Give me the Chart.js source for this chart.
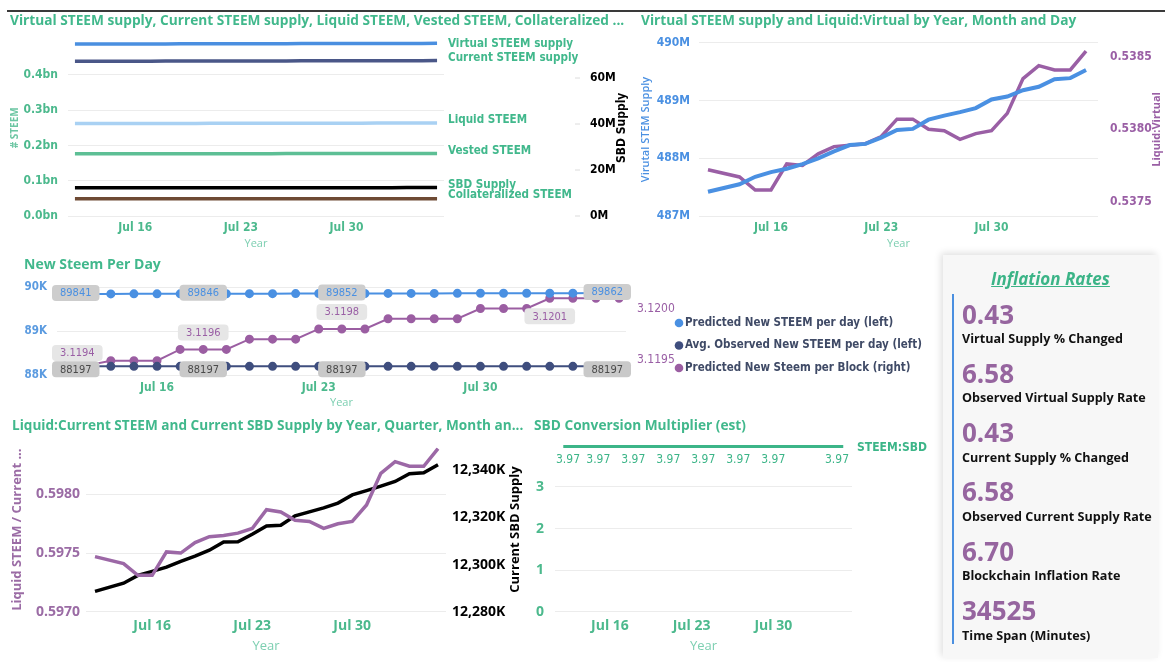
<!DOCTYPE html>
<html><head><meta charset="utf-8">
<script src="https://cdn.jsdelivr.net/npm/chart.js@4.4.1/dist/chart.umd.min.js"></script>
<style>
html,body{margin:0;padding:0;background:#fff;width:1168px;height:662px;overflow:hidden}
.box{position:absolute}
#topline{position:absolute;left:7px;top:10px;width:1158px;height:2px;background:#3a3a3a}
#card{position:absolute;left:943px;top:255px;width:215px;height:403px;background:#f7f7f7;box-shadow:-2px -2px 7px rgba(0,0,0,0.13);font-family:"Open Sans","Noto Sans",sans-serif}
#card .ttl{position:absolute;left:0;width:215px;top:12px;text-align:center;font-size:17px;font-weight:bold;font-style:italic;text-decoration:underline;color:#3bb487;line-height:24px}
#card .vline{position:absolute;left:9px;top:39px;width:1.5px;height:350px;background:#4a8fe0}
#card .val{position:absolute;left:19px;font-size:26px;font-weight:bold;color:#96659f;line-height:34px}
#card .lab{position:absolute;left:19px;font-size:12.6px;font-weight:bold;color:#111;line-height:18px;white-space:nowrap}
</style></head>
<body>
<div id="topline"></div>
<div class="box" style="left:0;top:12px;width:632px;height:240px"><canvas id="c1"></canvas></div>
<div class="box" style="left:632px;top:12px;width:536px;height:240px"><canvas id="c2"></canvas></div>
<div class="box" style="left:0;top:252px;width:930px;height:160px"><canvas id="c3"></canvas></div>
<div class="box" style="left:0;top:412px;width:530px;height:250px"><canvas id="c4"></canvas></div>
<div class="box" style="left:530px;top:412px;width:400px;height:250px"><canvas id="c5"></canvas></div>
<div id="card"></div>
<script>
// ---------------- DATA ----------------
const days = [12,14,15,16,17,18,19,20,21,22,23,24,25,26,27,28,29,30,31,32,33,34,35,36]; // day of July (32 = Aug 1)
const xTickDays = [16,23,30];
const xTickLabels = ['Jul 16','Jul 23','Jul 30'];

const virtualSupplyM = [487.42,487.55,487.68,487.76,487.82,487.90,488.00,488.12,488.23,488.25,488.36,488.49,488.51,488.67,488.74,488.80,488.87,489.02,489.07,489.18,489.24,489.37,489.39,489.53];
const currentSupplyM = [438.70,438.80,438.90,438.97,439.03,439.10,439.18,439.28,439.37,439.40,439.50,439.60,439.63,439.76,439.83,439.88,439.95,440.08,440.13,440.22,440.28,440.40,440.42,440.55];
const liquidSteemM = [262.10,262.14,262.17,262.21,262.33,262.37,262.46,262.55,262.62,262.63,262.71,262.84,262.85,262.90,262.94,262.94,263.00,263.09,263.17,263.35,263.43,263.48,263.49,263.63];
const vestedSteemM = [176.60,176.66,176.73,176.76,176.70,176.73,176.72,176.73,176.75,176.77,176.79,176.76,176.78,176.86,176.89,176.94,176.95,176.99,176.96,176.87,176.85,176.92,176.93,176.92];
const collateralizedSteemM = [48.79,48.80,48.82,48.82,48.83,48.84,48.85,48.86,48.87,48.87,48.89,48.90,48.90,48.92,48.92,48.93,48.94,48.95,48.96,48.96,48.97,48.99,48.99,49.00];
const sbdSupplyK = [12288.6,12292.1,12295.4,12297.1,12298.9,12301.4,12303.6,12306.1,12309.6,12309.7,12312.9,12316.4,12316.7,12320.7,12322.4,12324.1,12326.1,12329.6,12331.4,12333.3,12335.3,12338.6,12339.0,12342.4];

const liquidVirtualRatio = [0.53772,0.53767,0.53758,0.53758,0.53776,0.53775,0.53783,0.53788,0.53789,0.53790,0.53795,0.53807,0.53807,0.53800,0.53799,0.53793,0.53797,0.53799,0.53811,0.53835,0.53844,0.53841,0.53841,0.53854];
const liquidCurrentRatio = [0.59747,0.59741,0.59731,0.59731,0.59751,0.59750,0.59759,0.59764,0.59765,0.59767,0.59771,0.59787,0.59785,0.59778,0.59777,0.59771,0.59775,0.59777,0.59791,0.59818,0.59828,0.59824,0.59824,0.59839];

const predictedPerDay = [89841,89843,89844,89845,89845,89846,89847,89848,89849,89850,89851,89852,89853,89854,89855,89855,89856,89857,89858,89859,89859,89860,89861,89862];
const observedPerDay = [88197,88197,88197,88197,88197,88197,88197,88197,88197,88197,88197,88197,88197,88197,88197,88197,88197,88197,88197,88197,88197,88197,88197,88197];
const predictedPerBlock = [3.11940,3.11949,3.11949,3.11949,3.11960,3.11960,3.11960,3.11970,3.11970,3.11970,3.11980,3.11980,3.11980,3.11990,3.11990,3.11990,3.11990,3.12000,3.12000,3.12000,3.12010,3.12010,3.12010,3.12010];
const perDayLabelIdx = [0,5,11,23];
const perBlockLabelIdx = [0,5,11,20];

const conversionMultiplier = [3.97,3.97,3.97,3.97,3.97,3.97,3.97,3.97,3.97,3.97,3.97,3.97,3.97,3.97,3.97,3.97,3.97,3.97,3.97,3.97,3.97,3.97,3.97,3.97];
const multiplierLabelIdx = [0,2,5,8,11,14,17,23];

const kpiValues = ['0.43','6.58','0.43','6.58','6.70','34525'];
const kpiLabels = ['Virtual Supply % Changed','Observed Virtual Supply Rate','Current Supply % Changed','Observed Current Supply Rate','Blockchain Inflation Rate','Time Span (Minutes)'];

// ---------------- STYLE ----------------
const GREEN='#41b88c', TICKGREEN='#4cb98d', YEARGREEN='#7dcfb1', GRID='#ececec';
const PURPLE='#9a5fa5', BLUE='#4a90e2', NAVY='#3f4e7e';
const DIN='"DejaVu Sans Condensed","Liberation Sans Narrow",sans-serif';
const SEG='"Open Sans","Noto Sans",sans-serif';

Chart.defaults.animation=false;
Chart.defaults.devicePixelRatio=1;
Chart.defaults.maintainAspectRatio=false;
Chart.defaults.plugins.legend.display=false;
Chart.defaults.plugins.tooltip.enabled=false;
Chart.defaults.elements.point.radius=0;
Chart.defaults.elements.line.tension=0;

const pts = arr => days.map((d,i)=>({x:d,y:arr[i]}));

function xAxis(min,max,font,padding,height,titleSize,titlePad){
  return {type:'linear',min,max,
    afterBuildTicks:s=>{s.ticks=xTickDays.map(v=>({value:v}));},
    ticks:{callback:v=>xTickLabels[xTickDays.indexOf(v)]||'',color:TICKGREEN,font,padding,maxRotation:0,autoSkip:false},
    grid:{display:false,drawTicks:false},border:{display:false},
    title:{display:true,text:'Year',color:YEARGREEN,font:{family:SEG,size:titleSize},padding:{top:0,bottom:titlePad}},
    afterFit:s=>{s.height=height;}
  };
}
function yAxis(pos,min,max,tickVals,cb,color,font,padding,width,showTicks){
  return {type:'linear',position:pos,min,max,
    afterBuildTicks:s=>{s.ticks=tickVals.map(v=>({value:v}));},
    ticks:{callback:cb,color,font,padding,display:showTicks!==false},
    grid:{color:GRID,drawTicks:false,drawOnChartArea:pos==='left'},
    border:{display:false},
    afterFit:s=>{s.width=width;}
  };
}
function vTitle(ctx,text,x,yc,color,font){
  ctx.save();ctx.translate(x,yc);ctx.rotate(-Math.PI/2);
  ctx.font=font;ctx.fillStyle=color;ctx.textAlign='center';ctx.textBaseline='middle';
  ctx.fillText(text,0,0);ctx.restore();
}
function titleOpt(text,size,pt,pb){
  return {display:true,text,align:'start',color:GREEN,font:{family:SEG,size,weight:'bold',lineHeight:1.2},padding:{top:pt,bottom:pb}};
}
function rrect(ctx,x,y,w,h,r){
  ctx.beginPath();ctx.moveTo(x+r,y);ctx.lineTo(x+w-r,y);ctx.quadraticCurveTo(x+w,y,x+w,y+r);
  ctx.lineTo(x+w,y+h-r);ctx.quadraticCurveTo(x+w,y+h,x+w-r,y+h);ctx.lineTo(x+r,y+h);
  ctx.quadraticCurveTo(x,y+h,x,y+h-r);ctx.lineTo(x,y+r);ctx.quadraticCurveTo(x,y,x+r,y);ctx.closePath();
}

// ---------------- CHART 1 ----------------
const c1Names=['Virtual STEEM supply','Current STEEM supply','Liquid STEEM','Vested STEEM','SBD Supply','Collateralized STEEM'];
const c1LabelShift=[1,-3,-3,-3,-3,-4];
const c1RightFmt = v=>(v/1000)+'M';
new Chart(document.getElementById('c1'),{
  type:'line',
  data:{datasets:[
    {label:c1Names[0],data:pts(virtualSupplyM),borderColor:'#4a8fe0',borderWidth:3.5,yAxisID:'y'},
    {label:c1Names[1],data:pts(currentSupplyM),borderColor:'#4a5788',borderWidth:3.5,yAxisID:'y'},
    {label:c1Names[2],data:pts(liquidSteemM),borderColor:'#a9d1f3',borderWidth:3.5,yAxisID:'y'},
    {label:c1Names[3],data:pts(vestedSteemM),borderColor:'#5dbf95',borderWidth:3.5,yAxisID:'y'},
    {label:c1Names[4],data:pts(sbdSupplyK),borderColor:'#000000',borderWidth:3.5,yAxisID:'y1'},
    {label:c1Names[5],data:pts(collateralizedSteemM),borderColor:'#6e4a34',borderWidth:3.5,yAxisID:'y'}
  ]},
  options:{
    layout:{padding:{left:10,right:0,top:0,bottom:0}},
    plugins:{title:titleOpt('Virtual STEEM supply, Current STEEM supply, Liquid STEEM, Vested STEEM, Collateralized ...',13.7,1,10.2)},
    scales:{
      x:xAxis(11.54,36.46,{family:DIN,size:12,weight:'bold'},5,36,11,2),
      y:yAxis('left',0,500,[0,100,200,300,400],v=>(v/1000).toFixed(1)+'bn',TICKGREEN,{family:DIN,size:12,weight:'bold'},10,58),
      y1:yAxis('right',0,76688,[0,20000,40000,60000],c1RightFmt,'#000',{family:DIN,size:12,weight:'bold'},0,188,false)
    }
  },
  plugins:[{id:'c1x',afterDatasetsDraw(chart){
    const ctx=chart.ctx,ca=chart.chartArea;
    ctx.save();ctx.font='bold 11.6px '+DIN;ctx.fillStyle=GREEN;ctx.textBaseline='middle';ctx.textAlign='left';
    chart.data.datasets.forEach((ds,i)=>{
      const m=chart.getDatasetMeta(i);const p=m.data[m.data.length-1];
      ctx.fillText(ds.label,ca.right+4,p.y+c1LabelShift[i]);
    });
    // right (SBD) axis labels, placed beyond the series labels
    const s=chart.scales.y1;
    ctx.font='bold 12px '+DIN;
    s.ticks.forEach(t=>{
      const y=s.getPixelForValue(t.value);
      ctx.fillStyle='#dcdcdc';ctx.fillRect(575,y-0.5,5,1);
      ctx.fillStyle='#000';ctx.fillText(c1RightFmt(t.value),590,y);
    });
    ctx.restore();
    vTitle(ctx,'# STEEM',15,(ca.top+ca.bottom)/2,'#6cc6a3','bold 10px '+SEG);
    vTitle(ctx,'SBD Supply',622,(ca.top+ca.bottom)/2,'#000','bold 12px '+DIN);
  }}]
});

// ---------------- CHART 2 ----------------
new Chart(document.getElementById('c2'),{
  type:'line',
  data:{datasets:[
    {label:'Virtual STEEM supply',data:pts(virtualSupplyM),borderColor:BLUE,borderWidth:4,yAxisID:'y'},
    {label:'Liquid:Virtual',data:pts(liquidVirtualRatio),borderColor:PURPLE,borderWidth:3.5,yAxisID:'y1'}
  ]},
  options:{
    layout:{padding:{left:9,right:0,top:0,bottom:0}},
    plugins:{title:titleOpt('Virtual STEEM supply and Liquid:Virtual by Year, Month and Day',13.7,1,13.5)},
    scales:{
      x:xAxis(11.43,36.76,{family:DIN,size:12,weight:'bold'},5,36,11,2),
      y:yAxis('left',487,490,[487,488,489,490],v=>v+'M',BLUE,{family:DIN,size:12,weight:'bold'},9,58),
      y1:yAxis('right',0.53740,0.538597,[0.5375,0.5380,0.5385],v=>v.toFixed(4),PURPLE,{family:DIN,size:12,weight:'bold'},12,70)
    }
  },
  plugins:[{id:'c2x',afterDatasetsDraw(chart){
    const ctx=chart.ctx,ca=chart.chartArea;
    vTitle(ctx,'Virutal STEM Supply',14,(ca.top+ca.bottom)/2,BLUE,'600 11px '+SEG);
    vTitle(ctx,'Liquid:Virtual',525,(ca.top+ca.bottom)/2,PURPLE,'bold 11px '+SEG);
  }}]
});

// ---------------- CHART 3 ----------------
const c3Colors=[BLUE,NAVY,'#9b5ea2'];
new Chart(document.getElementById('c3'),{
  type:'line',
  data:{datasets:[
    {label:'Predicted New STEEM per day (left)',data:pts(predictedPerDay),borderColor:BLUE,backgroundColor:BLUE,borderWidth:2,pointRadius:3.5,yAxisID:'y'},
    {label:'Avg. Observed New STEEM per day (left)',data:pts(observedPerDay),borderColor:NAVY,backgroundColor:NAVY,borderWidth:2,pointRadius:3.5,yAxisID:'y'},
    {label:'Predicted New Steem per Block (right)',data:pts(predictedPerBlock),borderColor:'#9b5ea2',backgroundColor:'#9b5ea2',borderWidth:2,pointRadius:3.5,yAxisID:'y1'}
  ]},
  options:{
    layout:{padding:{left:24,right:254,top:0,bottom:0}},
    plugins:{title:titleOpt('New Steem Per Day',14,4.6,13.6)},
    scales:{
      x:xAxis(11.67,36.3,{family:DIN,size:12,weight:'bold'},6,37,11,2.4),
      y:yAxis('left',88000,90000,[88000,89000,90000],v=>(v/1000)+'K','#5b9be0',{family:DIN,size:11.5,weight:'bold'},10,33),
      y1:yAxis('right',3.11935,3.12021,[3.1195,3.1200],v=>v.toFixed(4),PURPLE,{family:DIN,size:12},11,50)
    }
  },
  plugins:[{id:'c3x',afterDatasetsDraw(chart){
    const ctx=chart.ctx,ca=chart.chartArea;
    ctx.save();ctx.font='11px '+DIN;ctx.textAlign='center';ctx.textBaseline='middle';
    const specs=[
      {ds:0,idx:perDayLabelIdx,fmt:v=>String(v),bg:'#cdcdcd',fg:BLUE,off:()=>-1},
      {ds:1,idx:perDayLabelIdx,fmt:v=>String(v),bg:'#c9c9c9',fg:'#4a4a4a',off:()=>3},
      {ds:2,idx:perBlockLabelIdx,fmt:v=>v.toFixed(4),bg:'#e6e6e6',fg:PURPLE,off:(k)=>k===3?18:-17}
    ];
    specs.forEach(sp=>{
      const m=chart.getDatasetMeta(sp.ds);const data=chart.data.datasets[sp.ds].data;
      sp.idx.forEach((i,k)=>{
        const p=m.data[i];const t=sp.fmt(data[i].y);const w=ctx.measureText(t).width+16,h=16;
        let cx=Math.min(Math.max(p.x,ca.left-5+w/2),ca.right+5-w/2);
        const cy=p.y+sp.off(k);
        ctx.fillStyle=sp.bg;rrect(ctx,cx-w/2,cy-h/2,w,h,4);ctx.fill();
        ctx.fillStyle=sp.fg;ctx.fillText(t,cx,cy+0.5);
      });
    });
    // legend
    ctx.font='bold 11.5px '+DIN;ctx.textAlign='left';
    chart.data.datasets.forEach((ds,i)=>{
      const y=71+i*22.5;
      ctx.fillStyle=c3Colors[i];ctx.beginPath();ctx.arc(679,y,4.3,0,Math.PI*2);ctx.fill();
      ctx.fillStyle='#3f4a66';ctx.fillText(ds.label,685,y);
    });
    ctx.restore();
  }}]
});

// ---------------- CHART 4 ----------------
new Chart(document.getElementById('c4'),{
  type:'line',
  data:{datasets:[
    {label:'Liquid STEEM / Current STEEM',data:pts(liquidCurrentRatio),borderColor:'#9c68a6',borderWidth:3.5,yAxisID:'y'},
    {label:'Current SBD Supply',data:pts(sbdSupplyK),borderColor:'#000',borderWidth:3.5,yAxisID:'y1'}
  ]},
  options:{
    layout:{padding:{left:12,right:0,top:0,bottom:0}},
    plugins:{title:titleOpt('Liquid:Current STEEM and Current SBD Supply by Year, Quarter, Month an...',13.6,5.6,13.6)},
    scales:{
      x:xAxis(11.37,36.56,{family:SEG,size:14,weight:'bold'},6,50.3,13,8.2),
      y:yAxis('left',0.5970,0.5984,[0.5970,0.5975,0.5980],v=>v.toFixed(4),'#9b6ca5',{family:SEG,size:14,weight:'bold'},6,74),
      y1:yAxis('right',12280,12349.7,[12280,12300,12320,12340],v=>v.toLocaleString('en-US')+'K','#000',{family:SEG,size:14,weight:'bold'},6,84)
    }
  },
  plugins:[{id:'c4x',afterDatasetsDraw(chart){
    const ctx=chart.ctx,ca=chart.chartArea;
    vTitle(ctx,'Liquid STEEM / Current ...',17,(ca.top+ca.bottom)/2,'#9b6ca5','bold 13px '+SEG);
    vTitle(ctx,'Current SBD Supply',515,(ca.top+ca.bottom)/2,'#000','bold 13px '+SEG);
  }}]
});

// ---------------- CHART 5 ----------------
new Chart(document.getElementById('c5'),{
  type:'line',
  data:{datasets:[
    {label:'STEEM:SBD',data:pts(conversionMultiplier),borderColor:'#3cb588',borderWidth:3,yAxisID:'y'}
  ]},
  options:{
    layout:{padding:{left:4,right:78,top:0,bottom:0}},
    plugins:{title:titleOpt('SBD Conversion Multiplier (est)',13.7,5.6,5.1)},
    scales:{
      x:xAxis(11.29,36.75,{family:SEG,size:14,weight:'bold'},6,50.3,13,8.2),
      y:yAxis('left',0,4.15,[0,1,2,3],v=>String(v),TICKGREEN,{family:SEG,size:14,weight:'bold'},11,21)
    }
  },
  plugins:[{id:'c5x',afterDatasetsDraw(chart){
    const ctx=chart.ctx,ca=chart.chartArea;const m=chart.getDatasetMeta(0);const data=chart.data.datasets[0].data;
    ctx.save();ctx.font='12px '+DIN;ctx.fillStyle='#3cb588';ctx.textAlign='center';ctx.textBaseline='middle';
    multiplierLabelIdx.forEach(i=>{
      const p=m.data[i];const t=data[i].y.toFixed(2);const w=ctx.measureText(t).width;
      const cx=Math.min(Math.max(p.x,ca.left+1+w/2),ca.right-3-w/2);
      ctx.fillText(t,cx,p.y+13);
    });
    const last=m.data[m.data.length-1];
    ctx.font='bold 12px '+DIN;ctx.textAlign='left';ctx.fillText(chart.data.datasets[0].label,ca.right+5,last.y+1);
    ctx.restore();
  }}]
});

// ---------------- KPI CARD ----------------
const card=document.getElementById('card');
card.innerHTML='<div class="ttl">Inflation Rates</div><div class="vline"></div>'+
  kpiValues.map((v,i)=>'<div class="val" style="top:'+(60+i*59.3-18.5)+'px">'+v+'</div><div class="lab" style="top:'+(84+i*59.3-9)+'px">'+kpiLabels[i]+'</div>').join('');
</script>
</body></html>
